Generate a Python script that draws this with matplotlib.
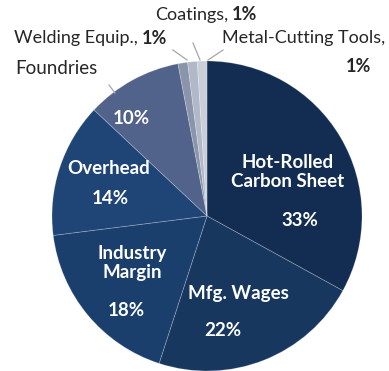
import matplotlib
matplotlib.use("Agg")
import matplotlib.pyplot as plt

categories = ["Hot-Rolled\nCarbon Sheet", "Mfg. Wages", "Industry\nMargin", "Overhead",
              "Foundries", "Welding Equip.", "Coatings", "Metal-Cutting Tools"]
values = [33, 22, 18, 14, 10, 1, 1, 1]
pct_labels = ["33%", "22%", "18%", "14%", "10%", "1%", "1%", "1%"]
colors = ["#132c51", "#17375f", "#1b3f6d", "#1f4577", "#51638a", "#8a95ab", "#b1b9c9", "#c9ced9"]

W, H = 389, 371
fig = plt.figure(figsize=(W / 100, H / 100), dpi=100)
CX, CY, R = 207, 216, 155
ax = fig.add_axes([(CX - R) / W, (H - CY - R) / H, 2 * R / W, 2 * R / H])
ax.axis("off")

ax.pie(values, colors=colors, startangle=90, counterclock=False, radius=1,
       wedgeprops=dict(edgecolor=(1, 1, 1, 0.25), linewidth=0.6))
ax.set_xlim(-1, 1)
ax.set_ylim(-1, 1)

def d(px, py):
    return ((px - CX) / R, (CY - py) / R)

FONT = "Lato"
fs_in = 13.5
white = dict(color="white", fontsize=fs_in, fontweight="bold", family=FONT,
             ha="center", va="center", linespacing=1.15)

inside = [
    (0, (288, 172), (300, 220)),
    (1, (238, 293), (223, 330)),
    (2, (132, 263), (126, 311)),
    (3, (109, 169), (110, 199)),
]
for i, npos, ppos in inside:
    ax.text(*d(*npos), categories[i], **white)
    ax.text(*d(*ppos), pct_labels[i], **white)
ax.text(*d(131, 118), pct_labels[4], **white)

dark = "#262626"
fs_out = 13
ax.text(*d(56, 69), categories[4], color=dark, fontsize=fs_out + 0.5, family=FONT,
        ha="center", va="center", clip_on=False)
ax.text(*d(138, 38), categories[5] + ",", color=dark, fontsize=fs_out, family=FONT,
        ha="right", va="center", clip_on=False)
ax.text(*d(142, 38), pct_labels[5], color=dark, fontsize=fs_out, family=FONT,
        fontweight="bold", ha="left", va="center", clip_on=False)
ax.text(*d(228, 15), categories[6] + ",", color=dark, fontsize=fs_out, family=FONT,
        ha="right", va="center", clip_on=False)
ax.text(*d(232, 15), pct_labels[6], color=dark, fontsize=fs_out, family=FONT,
        fontweight="bold", ha="left", va="center", clip_on=False)
ax.text(*d(385, 38), categories[7] + ",", color=dark, fontsize=fs_out, family=FONT,
        ha="right", va="center", clip_on=False)
ax.text(*d(371, 67), pct_labels[7], color=dark, fontsize=fs_out, family=FONT,
        fontweight="bold", ha="right", va="center", clip_on=False)

lc = "#a6a6a6"
for (x0, y0), (x1, y1) in [((109, 85), (115, 93)), ((173, 50), (187, 60)),
                           ((193, 43), (200, 60)), ((223, 50), (208, 60))]:
    a, b = d(x0, y0), d(x1, y1)
    ax.plot([a[0], b[0]], [a[1], b[1]], color=lc, lw=0.9, clip_on=False)

fig.savefig("out.png", dpi=100)
